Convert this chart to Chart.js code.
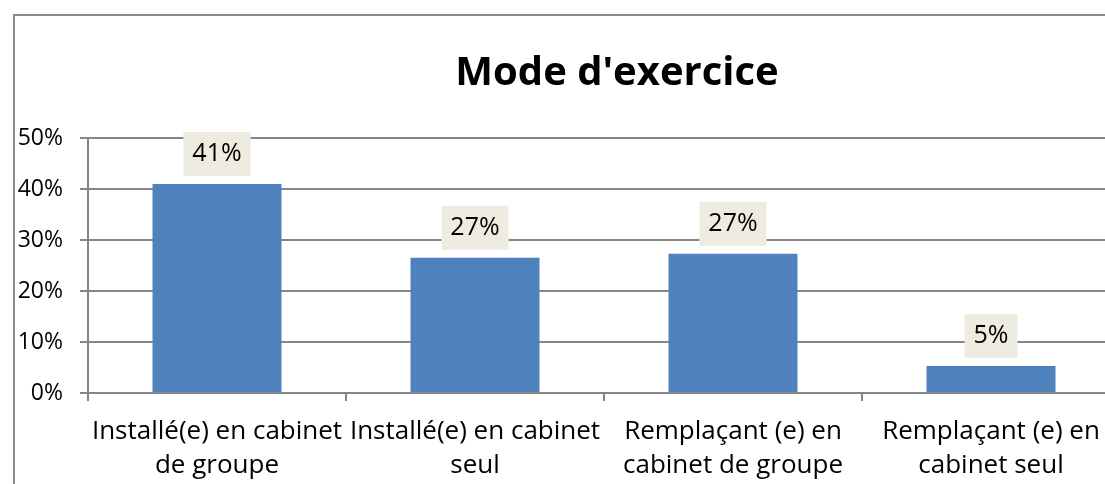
<!DOCTYPE html>
<html>
<head>
<meta charset="utf-8">
<script src="https://cdn.jsdelivr.net/npm/chart.js@4"></script>
<style>
  html, body { margin: 0; padding: 0; background: #fff; overflow: hidden; }
  #wrap { position: absolute; left: 0; top: 0; width: 1140px; height: 484px; }
</style>
</head>
<body>
<div id="wrap"><canvas id="mode" width="1140" height="484"></canvas></div>
<script>
const categories = [
    ['Installé(e) en cabinet', 'de groupe'],
    ['Installé(e) en cabinet', 'seul'],
    ['Remplaçant (e) en', 'cabinet de groupe'],
    ['Remplaçant (e) en', 'cabinet seul']
];
const pourcentages = [41, 26.5, 27.3, 5.3];
const tickValues = [0, 10, 20, 30, 40, 50];
const titre = "Mode d'exercice";

const police = '"Open Sans", Lato, sans-serif';

// cadre + titre dessinés à la main
const cadre = {
    id: 'cadre',
    beforeDraw(chart) {
        const ctx = chart.ctx;
        ctx.save();
        ctx.strokeStyle = '#8c8c8c';
        ctx.lineWidth = 2;
        ctx.strokeRect(14, 15, 1200, 600);
        ctx.fillStyle = '#000';
        ctx.font = 'bold 40px ' + police;
        ctx.textAlign = 'center';
        ctx.textBaseline = 'middle';
        ctx.fillText(titre, 617, 74);
        ctx.restore();
    }
};

// étiquettes de valeurs
const etiquettes = {
    id: 'etiquettes',
    afterDatasetsDraw(chart) {
        const ctx = chart.ctx;
        const meta = chart.getDatasetMeta(0);
        ctx.save();
        ctx.font = '25px ' + police;
        ctx.textAlign = 'center';
        ctx.textBaseline = 'middle';
        meta.data.forEach((bar, i) => {
            const txt = Math.round(pourcentages[i]) + '%';
            const w = ctx.measureText(txt).width + 18;
            const h = 44;
            const y = bar.y - 8 - h;
            ctx.fillStyle = '#eeece1';
            ctx.fillRect(bar.x - w / 2, y, w, h);
            ctx.fillStyle = '#000';
            ctx.fillText(txt, bar.x, y + h / 2);
        });
        ctx.restore();
    }
};

new Chart(document.querySelector('#mode'), {
    type: 'bar',
    data: {
        labels: categories,
        datasets: [
            {
                label: titre,
                data: pourcentages,
                backgroundColor: '#4f81bd',
                barPercentage: 0.5,
                categoryPercentage: 1
            }
        ]
    },
    options: {
        responsive: false,
        animation: false,
        layout: {
            padding: { left: 0, top: 138, right: 20, bottom: 0 }
        },
        plugins: {
            legend: { display: false },
            title: { display: false },
            tooltip: { enabled: false }
        },
        scales: {
            x: {
                afterFit(scale) { scale.height = 91; },
                grid: {
                    drawOnChartArea: false,
                    tickLength: 8,
                    color: '#868686',
                    lineWidth: 2
                },
                border: { color: '#868686', width: 2 },
                ticks: {
                    color: '#000',
                    font: { family: police, size: 26, lineHeight: 1.3 },
                    padding: 14,
                    maxRotation: 0,
                    autoSkip: false
                }
            },
            y: {
                min: 0,
                max: 50,
                afterFit(scale) { scale.width = 88; },
                afterBuildTicks(scale) {
                    scale.ticks = tickValues.map(v => ({ value: v }));
                },
                grid: {
                    color: '#868686',
                    lineWidth: 2,
                    tickLength: 8
                },
                border: { color: '#868686', width: 2 },
                ticks: {
                    color: '#000',
                    font: { family: police, size: 23 },
                    padding: 17,
                    callback: v => v + '%'
                }
            }
        }
    },
    plugins: [cadre, etiquettes]
});
</script>
</body>
</html>
